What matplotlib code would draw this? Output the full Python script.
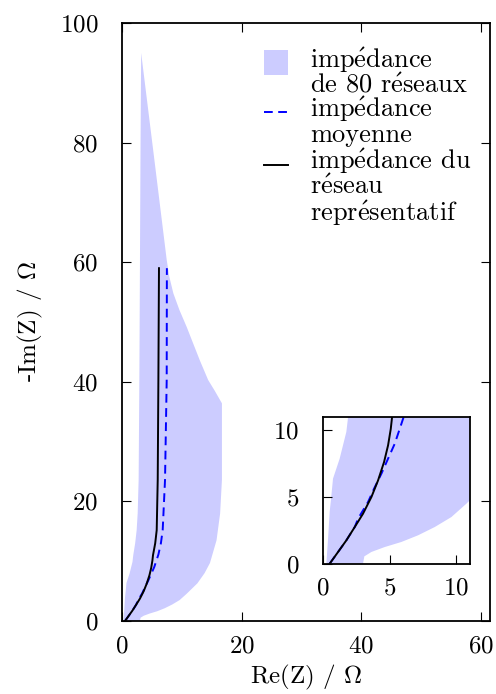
import matplotlib
matplotlib.use("Agg")
import matplotlib.pyplot as plt
from matplotlib.lines import Line2D
from matplotlib.patches import Rectangle

plt.rcParams['font.family'] = ['cmr10', 'DejaVu Serif']
plt.rcParams['mathtext.fontset'] = 'cm'
plt.rcParams['axes.formatter.use_mathtext'] = True
plt.rcParams['axes.unicode_minus'] = False

# Envelope of the 80 networks: left edge and right edge (Re(Z) vs -Im(Z)), bottom to top
left_y = [0, 1.88, 3.88, 5.13, 6.38, 7.13, 7.88, 8.88, 9.88, 11.0, 13.0, 15.2, 18.0, 23.6, 40.3, 60.0, 80.0, 95.0]
left_x = [0.25, 0.38, 0.5, 0.63, 0.75, 1.0, 1.25, 1.5, 1.75, 1.88, 2.2, 2.45, 2.62, 2.78, 2.9, 3.0, 3.1, 3.2]
right_y = [0, 0.55, 0.88, 1.25, 1.63, 2.13, 2.75, 3.5, 4.5, 6.3, 8.0, 9.7, 13.5, 18.0, 23.6, 36.4,
           38.5, 40.3, 43.6, 46.4, 49.2, 52.0, 54.8, 57.6, 60.4, 76.0, 95.0]
right_x = [3.0, 3.1, 3.63, 4.63, 5.88, 7.13, 8.38, 9.63, 10.75, 12.6, 13.8, 14.7, 15.8, 16.4, 16.7, 16.7,
           15.5, 14.4, 13.0, 11.9, 10.8, 9.6, 8.58, 7.9, 7.47, 5.55, 3.2]

# Mean impedance
mean_x = [0.5, 1.13, 1.75, 2.38, 2.63, 3.38, 3.83, 4.38, 4.88, 5.38, 5.75, 6.08, 6.5, 6.8, 7.19, 7.47, 7.5]
mean_y = [0, 0.88, 1.75, 2.75, 3.38, 4.63, 5.63, 6.75, 7.88, 9.0, 10.1, 11.1, 13.0, 15.2, 23.6, 40.3, 59.0]

# Representative network impedance
rep_x = [0.5, 1.13, 1.75, 2.38, 3.0, 3.63, 4.13, 4.58, 4.88, 5.08, 5.18, 5.55, 5.8, 5.97, 6.08, 6.18]
rep_y = [0, 0.88, 1.75, 2.75, 3.75, 5.0, 6.25, 7.63, 8.88, 10.1, 11.0, 13.0, 15.2, 23.6, 40.3, 59.0]

main_xticks = [0, 20, 40, 60]
main_yticks = [0, 20, 40, 60, 80, 100]
inset_ticks = [0, 5, 10]
legend_lines = [['impédance', 'de 80 réseaux'],
                ['impédance', 'moyenne'],
                ['impédance du', 'réseau', 'représentatif']]

band_color = '#ccccff'
DASH = (0, (4.5, 2.8))
FS = 18
LEG_FS = 19

W, H = 496, 694


def tex(s):
    return s.replace('é', r'$\mathrm{\acute{e}}$')


def draw(a):
    a.fill(right_x + left_x[::-1], right_y + left_y[::-1], color=band_color, lw=0)
    a.plot(mean_x, mean_y, color='#0000ff', lw=1.4, ls=DASH)
    a.plot(rep_x, rep_y, color='black', lw=1.4)


def style(a, **kw):
    a.tick_params(direction='in', length=6.5, width=0.8, labelsize=FS, **kw)
    a.tick_params(axis='x', pad=10)
    a.tick_params(axis='y', pad=17)
    for s in a.spines.values():
        s.set_linewidth(1.3)


fig = plt.figure(figsize=(W / 100, H / 100), dpi=100)

ax = fig.add_axes([122 / W, 1 - 621 / H, (490 - 122) / W, (621 - 23) / H])
draw(ax)
ax.set_xlim(0, 61.5)
ax.set_ylim(0, 100)
ax.set_xticks(main_xticks)
ax.set_yticks(main_yticks)
style(ax, top=True, right=True)
ax.set_xlabel(r'Re(Z) / $\Omega$', fontsize=FS, labelpad=4)
ax.set_ylabel(r'-Im(Z) / $\Omega$', fontsize=FS, labelpad=11)


# legend drawn in figure pixel coordinates
def fx(px):
    return px / W


def fy(py):
    return 1 - py / H


fig.add_artist(Rectangle((fx(264), fy(75)), fx(288) - fx(264), fy(50) - fy(75),
                         transform=fig.transFigure, facecolor=band_color, edgecolor='none'))
fig.add_artist(Line2D([fx(264), fx(288)], [fy(112), fy(112)], transform=fig.transFigure,
                      color='#0000ff', lw=1.4, ls=DASH))
fig.add_artist(Line2D([fx(264), fx(288)], [fy(164.5), fy(164.5)], transform=fig.transFigure,
                      color='black', lw=1.4))
baselines = [[68, 92.5], [117.5, 142], [169.5, 194.5, 220.5]]
for group, bl in zip(legend_lines, baselines):
    for line, b in zip(group, bl):
        fig.text(fx(310), fy(b), tex(line), fontsize=LEG_FS, va='baseline', ha='left')

axi = fig.add_axes([323 / W, 1 - 563.7 / H, (469.7 - 323) / W, (563.7 - 417) / H])
draw(axi)
axi.set_xlim(0, 11)
axi.set_ylim(0, 11)
axi.set_xticks(inset_ticks)
axi.set_yticks(inset_ticks)
style(axi)

fig.savefig('out.png', dpi=100)
